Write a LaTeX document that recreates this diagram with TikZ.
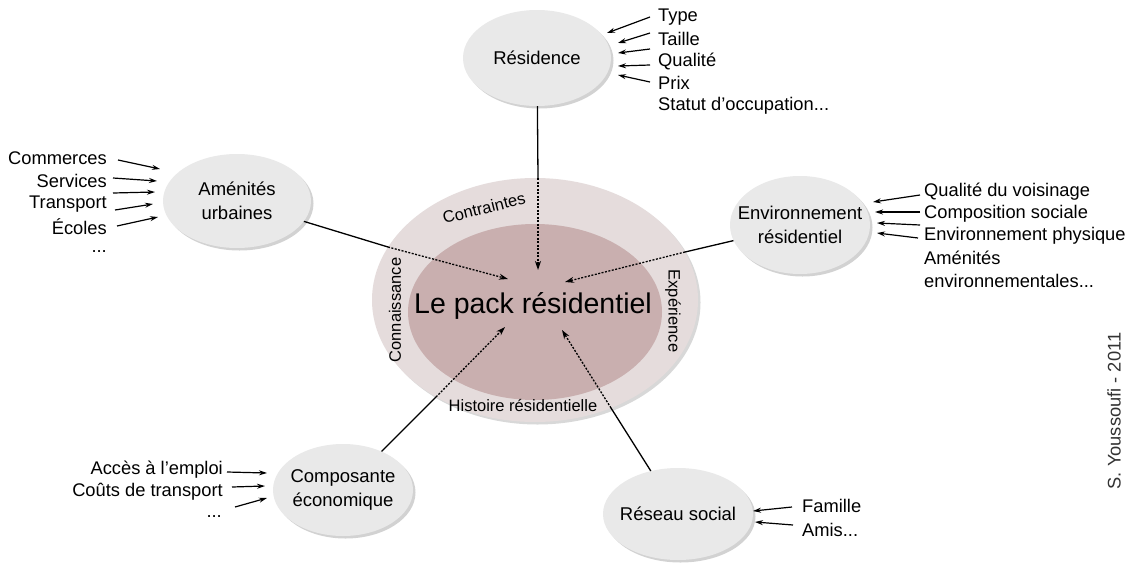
\documentclass[tikz,border=0pt]{standalone}
\usepackage{fontspec}
\setmainfont{Liberation Sans}
\usetikzlibrary{shapes.geometric,arrows.meta,shadows}
\definecolor{satfill}{RGB}{233,233,233}
\definecolor{outerfill}{RGB}{229,220,220}
\definecolor{innerfill}{RGB}{201,175,175}
\begin{document}
\begin{tikzpicture}[x=1pt,y=-1pt,
  sat/.style={ellipse, draw=none, fill=satfill, drop shadow={opacity=0.35, shadow xshift=2.5pt, shadow yshift=-2.5pt}, align=center, font=\fontsize{18.5}{24}\selectfont, inner sep=-25pt},
  lbl/.style={font=\fontsize{18.3}{21}\selectfont, inner sep=0pt},
  ring/.style={font=\fontsize{16.5}{19}\selectfont, inner sep=0pt},
  conn/.style={line width=1.3pt, black},
  dotc/.style={line width=1.3pt, black, dash pattern=on 2pt off 1.5pt, -{Stealth[length=9pt,width=6pt]}},
  small/.style={line width=1.2pt, black, -{Stealth[length=8pt,width=5pt]}},
]
\useasboundingbox (0,0) rectangle (1131,562);
\fill[white] (0,0) rectangle (1131,562);

% central ellipses
\node[ellipse, minimum width=326pt, minimum height=244pt, fill=outerfill, drop shadow={opacity=0.3, shadow xshift=2.5pt, shadow yshift=-2.5pt}] (outer) at (535,300) {};
\node[ellipse, minimum width=254pt, minimum height=176pt, fill=innerfill] (inner) at (535,312) {};
\node[font=\fontsize{28.5}{34}\selectfont, inner sep=0pt] (main) at (533,306) {Le pack résidentiel};
\node[ring, rotate=14] (contr) at (484,208) {Contraintes};
\node[ring, rotate=90] (conn) at (395,310) {Connaissance};
\node[ring, rotate=-90] (exp) at (673,311) {Expérience};
\node[ring] (hist) at (523,405) {Histoire résidentielle};

% satellites
\node[sat, minimum width=148pt, minimum height=96pt] (res) at (537,58) {Résidence};
\node[sat, minimum width=148pt, minimum height=94pt] (amen) at (237,201) {Aménités\\urbaines};
\node[sat, minimum width=140pt, minimum height=98pt] (env) at (800,225) {Environnement\\résidentiel};
\node[sat, minimum width=140pt, minimum height=92pt] (comp) at (343,490) {Composante\\économique};
\node[sat, minimum width=150pt, minimum height=92pt] (soc) at (678,514) {Réseau social};

% connectors to the centre
\coordinate (tRes) at (538,270);  \coordinate (sRes) at (538,178);
\coordinate (tAm) at (508,279);   \coordinate (sAm) at (388,247);
\coordinate (tEnv) at (565,282);  \coordinate (sEnv) at (685,252);
\coordinate (tComp) at (505,327); \coordinate (sComp) at (436,397);
\coordinate (tSoc) at (562,330);  \coordinate (sSoc) at (611,408);
\draw[conn] (res) -- (sRes);   \draw[dotc] (sRes) -- (tRes);
\draw[conn] (amen) -- (sAm);   \draw[dotc] (sAm) -- (tAm);
\draw[conn] (env) -- (sEnv);   \draw[dotc] (sEnv) -- (tEnv);
\draw[conn] (comp) -- (sComp); \draw[dotc] (sComp) -- (tComp);
\draw[conn] (soc) -- (sSoc);   \draw[dotc] (sSoc) -- (tSoc);

% Résidence labels
\node[lbl, anchor=west] (rType) at (658,17) {Type};
\node[lbl, anchor=west] (rTaille) at (658,39) {Taille};
\node[lbl, anchor=west] (rQual) at (658,61) {Qualité};
\node[lbl, anchor=west] (rPrix) at (658,83) {Prix};
\node[lbl, anchor=west] (rStat) at (658,106) {Statut d'occupation...};
\coordinate (r1s) at (650,17); \coordinate (r1t) at (607,33);
\coordinate (r2s) at (650,33); \coordinate (r2t) at (618,43);
\coordinate (r3s) at (650,49); \coordinate (r3t) at (618,53);
\coordinate (r4s) at (650,65); \coordinate (r4t) at (618,66);
\coordinate (r5s) at (650,82); \coordinate (r5t) at (618,75);
\foreach \i in {1,...,5} {\draw[small] (r\i s) -- (r\i t);}

% Aménités labels
\node[lbl, anchor=east] (aCom) at (107,158) {Commerces};
\node[lbl, anchor=east] (aSer) at (107,181) {Services};
\node[lbl, anchor=east] (aTra) at (107,204) {Transport};
\node[lbl, anchor=east] (aEco) at (107,227) {Écoles};
\node[lbl, anchor=east] (aDot) at (107,252) {...};
\coordinate (a1s) at (118,160); \coordinate (a1t) at (160,169);
\coordinate (a2s) at (113,178); \coordinate (a2t) at (157,181);
\coordinate (a3s) at (113,193); \coordinate (a3t) at (155,192);
\coordinate (a4s) at (115,210); \coordinate (a4t) at (153,204);
\coordinate (a5s) at (117,226); \coordinate (a5t) at (158,217);
\foreach \i in {1,...,5} {\draw[small] (a\i s) -- (a\i t);}

% Environnement labels
\node[lbl, anchor=west] (eQual) at (924,192) {Qualité du voisinage};
\node[lbl, anchor=west] (eComp) at (924,214) {Composition sociale};
\node[lbl, anchor=west] (ePhys) at (924,236) {Environnement physique};
\node[lbl, anchor=west] (eAm1) at (924,258) {Aménités};
\node[lbl, anchor=west] (eAm2) at (924,281) {environnementales...};
\coordinate (e1s) at (920,195); \coordinate (e1t) at (873,202);
\coordinate (e2s) at (920,212); \coordinate (e2t) at (875,212);
\coordinate (e3s) at (920,225); \coordinate (e3t) at (877,223);
\coordinate (e4s) at (918,238); \coordinate (e4t) at (877,233);
\foreach \i in {1,...,4} {\draw[small] (e\i s) -- (e\i t);}

% Composante labels
\node[lbl, anchor=east] (cAcc) at (223,470) {Accès à l'emploi};
\node[lbl, anchor=east] (cCou) at (223,492) {Coûts de transport};
\node[lbl, anchor=east] (cDot) at (222,517) {...};
\coordinate (c1s) at (227,472); \coordinate (c1t) at (267,473);
\coordinate (c2s) at (232,487); \coordinate (c2t) at (265,486);
\coordinate (c3s) at (235,507); \coordinate (c3t) at (267,498);
\foreach \i in {1,...,3} {\draw[small] (c\i s) -- (c\i t);}

% Réseau social labels
\node[lbl, anchor=west] (sFam) at (802,506) {Famille};
\node[lbl, anchor=west] (sAmi) at (802,530) {Amis...};
\coordinate (s1s) at (792,507); \coordinate (s1t) at (753,511);
\coordinate (s2s) at (793,525); \coordinate (s2t) at (755,522);
\foreach \i in {1,2} {\draw[small] (s\i s) -- (s\i t);}

% credit
\node[lbl, rotate=90, text=black!80] (credit) at (1114,411) {S. Youssoufi - 2011};
\end{tikzpicture}
\end{document}
